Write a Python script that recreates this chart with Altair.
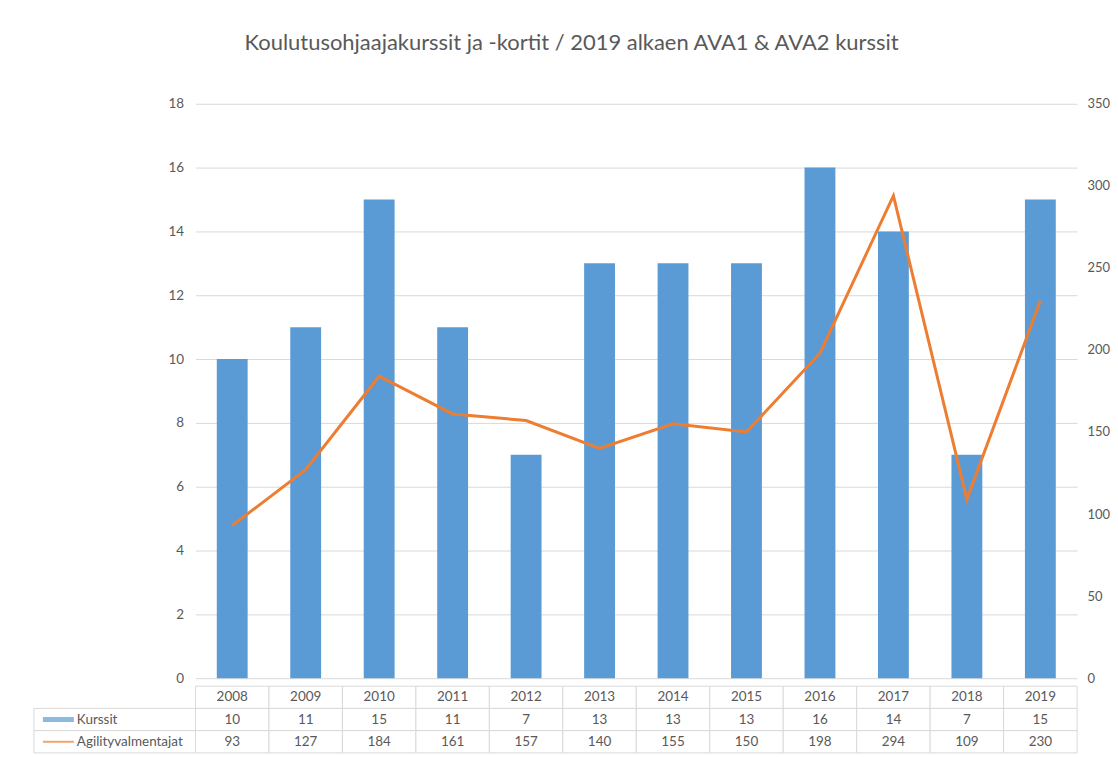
import altair as alt
import pandas as pd

years = ["2008", "2009", "2010", "2011", "2012", "2013", "2014", "2015", "2016", "2017", "2018", "2019"]
kurssit = [10, 11, 15, 11, 7, 13, 13, 13, 16, 14, 7, 15]
agility = [93, 127, 184, 161, 157, 140, 155, 150, 198, 294, 109, 230]
row_names = ["Kurssit", "Agilityvalmentajat"]
title_text = "Koulutusohjaajakurssit ja -kortit / 2019 alkaen AVA1 & AVA2 kurssit"

BLUE = "#5B9BD5"
ORANGE = "#ED7D31"
TXT = "#595959"
GRID = "#D9D9D9"
FONT = "Lato"

W = 884
H = 576
ROWH = 22.3
LABW = 162

df = pd.DataFrame({"year": years, "Kurssit": kurssit, "Agilityvalmentajat": agility})

xscale = alt.Scale(domain=years, paddingInner=0, paddingOuter=0)

bars = alt.Chart(df).mark_bar(color=BLUE, width=alt.RelativeBandSize(0.42)).encode(
    x=alt.X("year:N", scale=xscale, axis=None),
    y=alt.Y("Kurssit:Q", scale=alt.Scale(domain=[0, 18]),
            axis=alt.Axis(values=list(range(0, 19, 2)), title=None, grid=True, gridColor=GRID,
                          domain=False, ticks=False, labelPadding=12, labelColor=TXT,
                          labelFontSize=13.5, labelFont=FONT)),
)

line = alt.Chart(df).mark_line(color=ORANGE, strokeWidth=3).encode(
    x=alt.X("year:N", scale=xscale, axis=None),
    y=alt.Y("Agilityvalmentajat:Q", scale=alt.Scale(domain=[0, 350]),
            axis=alt.Axis(values=list(range(0, 351, 50)), title=None, orient="right", grid=False,
                          domain=False, ticks=False, labelPadding=10, labelColor=TXT,
                          labelFontSize=13, labelFont=FONT)),
)

main = alt.layer(bars, line).resolve_scale(y="independent").properties(width=W, height=H)

# ---- data table ----
rows_order = ["header"] + row_names
long = pd.DataFrame({
    "year": years * 2,
    "row": ["Kurssit"] * len(years) + ["Agilityvalmentajat"] * len(years),
    "value": [str(v) for v in kurssit] + [str(v) for v in agility],
})
head = pd.DataFrame({"year": years, "row": ["header"] * len(years), "value": years})
cells = pd.concat([head, long], ignore_index=True)
labels = pd.DataFrame({"row": row_names, "series": row_names})

yrow = alt.Y("row:N", scale=alt.Scale(domain=rows_order, paddingInner=0, paddingOuter=0), axis=None)
xcol = alt.X("year:N", scale=xscale, axis=None)

cell_rects = alt.Chart(cells).mark_rect(fill="white", stroke=GRID, strokeWidth=1).encode(x=xcol, y=yrow)
cell_text = alt.Chart(cells).mark_text(font=FONT, fontSize=13.5, color=TXT).encode(
    x=xcol, y=yrow, text="value:N")

label_rects = alt.Chart(labels).mark_rect(fill="white", stroke=GRID, strokeWidth=1).encode(
    x=alt.value(-LABW), x2=alt.value(0), y=yrow)
label_text = alt.Chart(labels).mark_text(font=FONT, fontSize=13.5, color=TXT, align="left").encode(
    x=alt.value(-119), y=yrow, text="series:N")
swatch_bar = alt.Chart(labels[labels.series == "Kurssit"]).mark_tick(
    color=BLUE, orient="horizontal", thickness=5, size=31).encode(
    x=alt.value(-137.5), y=yrow)
swatch_line = alt.Chart(labels[labels.series == "Agilityvalmentajat"]).mark_tick(
    color=ORANGE, orient="horizontal", thickness=2, size=31).encode(
    x=alt.value(-137.5), y=yrow)

table = alt.layer(label_rects, cell_rects, cell_text, label_text, swatch_bar, swatch_line).properties(
    width=W, height=ROWH * 3)

chart = alt.vconcat(main, table, spacing=0).properties(
    title=alt.TitleParams(title_text, font=FONT, fontSize=22, fontWeight="normal", color=TXT,
                          anchor="middle", offset=42),
    padding={"left": 25, "top": 23, "right": 0, "bottom": 0},
).configure_view(stroke=None).configure_concat(spacing=0)

chart.save("out.html", embed_options={"renderer": "svg", "actions": False})
